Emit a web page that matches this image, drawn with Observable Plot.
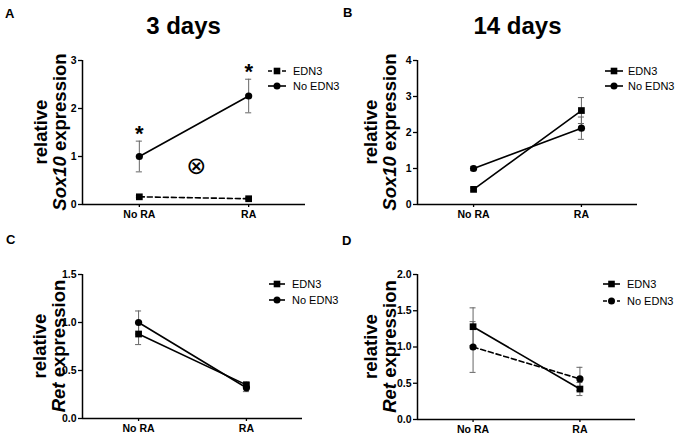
<!DOCTYPE html>
<html>
<head>
<meta charset="utf-8">
<script src="https://cdn.jsdelivr.net/npm/d3@7"></script>
<script src="https://cdn.jsdelivr.net/npm/@observablehq/plot@0.6"></script>
<style>
  html, body { margin: 0; padding: 0; background: white; }
  #root { position: relative; width: 683px; height: 439px; overflow: hidden; background: white; }
  #root > svg { position: absolute; }
</style>
</head>
<body>
<div id="root"></div>
<script>
// ---------- data ----------
const categories = ["No RA", "RA"];
const seriesNames = ["EDN3", "No EDN3"];
const xDomain = [-0.52, 1.52];

// Panel A: 3 days, Sox10
const sox3Edn3 = [0.16, 0.12];
const sox3Edn3Sem = [0.02, 0.02];
const sox3NoEdn3 = [1.0, 2.26];
const sox3NoEdn3Sem = [0.32, 0.35];
const sox3Stars = ["*", "*"];
const sox3Annotation = [{x: 0.52, y: 0.8, label: "⊗"}];

// Panel B: 14 days, Sox10
const sox14Edn3 = [0.42, 2.61];
const sox14Edn3Sem = [0.04, 0.36];
const sox14NoEdn3 = [1.0, 2.12];
const sox14NoEdn3Sem = [0.06, 0.31];

// Panel C: 3 days, Ret
const ret3Edn3 = [0.88, 0.35];
const ret3Edn3Sem = [0.11, 0.03];
const ret3NoEdn3 = [1.0, 0.32];
const ret3NoEdn3Sem = [0.12, 0.04];

// Panel D: 14 days, Ret
const ret14Edn3 = [1.28, 0.42];
const ret14Edn3Sem = [0.26, 0.09];
const ret14NoEdn3 = [1.0, 0.56];
const ret14NoEdn3Sem = [0.35, 0.16];

const ticksSox3 = [0, 1, 2, 3];
const ticksSox14 = [0, 1, 2, 3, 4];
const ticksRet3 = [0, 0.5, 1.0, 1.5];
const ticksRet14 = [0, 0.5, 1.0, 1.5, 2.0];

const titles = ["3 days", "14 days"];
const panelLetters = ["A", "B", "C", "D"];

// ---------- drawing ----------
const FONT = "'Liberation Sans', Arial, Helvetica, sans-serif";
const root = document.getElementById("root");
const ERR = "#666";

function rowsOf(vals, sems, name) {
  return vals.map((v, i) => ({x: i, y: v, e: sems[i], s: name}));
}

function panel(o) {
  const edn3 = rowsOf(o.edn3, o.edn3Sem, seriesNames[0]);
  const none = rowsOf(o.no, o.noSem, seriesNames[1]);
  const all = edn3.concat(none);
  const caps = all.flatMap(d => [d.y - d.e, d.y + d.e].map(v => ({x: d.x, v})));
  const marks = [
    Plot.ruleX(all, {x: "x", y1: d => d.y - d.e, y2: d => d.y + d.e, stroke: ERR, strokeWidth: 1}),
    Plot.ruleY(caps, {y: "v", x1: d => d.x - 0.028, x2: d => d.x + 0.028, stroke: ERR, strokeWidth: 1}),
    Plot.line(edn3, {x: "x", y: "y", stroke: "black", strokeWidth: 1.6, strokeDasharray: o.edn3Dash ? "5,3" : "none"}),
    Plot.line(none, {x: "x", y: "y", stroke: "black", strokeWidth: 1.6, strokeDasharray: o.noDash ? "5,3" : "none"}),
    Plot.dot(edn3, {x: "x", y: "y", symbol: "square", r: 3.8, fill: "black", stroke: null}),
    Plot.dot(none, {x: "x", y: "y", symbol: "circle", r: 3.6, fill: "black", stroke: null}),
    Plot.ruleY([o.yDomain[0]], {stroke: "black", strokeWidth: 1.5}),
    Plot.ruleX([xDomain[0]], {stroke: "black", strokeWidth: 1.5}),
    Plot.axisY({ticks: o.yTicks, tickFormat: o.yFmt, tickSize: 4, tickPadding: 2, strokeWidth: 1.3, label: null, fontWeight: "bold"}),
    Plot.axisX({ticks: [0, 1], tickFormat: i => categories[i], tickSize: 3, tickPadding: 3, strokeWidth: 1.3, label: null, fontWeight: "bold"})
  ];
  if (o.stars) {
    marks.push(Plot.text(none, {x: "x", y: d => d.y + d.e, text: (d, i) => o.stars[i], dy: -7, fontSize: 22, fontWeight: "bold"}));
  }
  if (o.annotation) {
    marks.push(Plot.text(o.annotation, {x: "x", y: "y", text: "label", fontSize: 24, fontFamily: "'DejaVu Sans'"}));
  }
  const svg = Plot.plot({
    width: o.width, height: o.height,
    marginLeft: o.ml, marginRight: o.mr, marginTop: o.mt, marginBottom: o.mb,
    x: {type: "linear", domain: xDomain},
    y: {domain: o.yDomain},
    style: {fontFamily: FONT, fontSize: "10.5px", color: "black", background: "transparent", overflow: "visible"},
    marks
  });
  svg.style.left = o.left + "px";
  svg.style.top = o.top + "px";
  svg.style.maxWidth = "none";
  root.appendChild(svg);

  const s = d3.select(svg);
  // y-axis title (two lines, gene name italic)
  const cy = (o.mt + (o.height - o.mb)) / 2;
  s.append("text").attr("transform", `translate(${o.lab1},${cy}) rotate(-90)`)
    .attr("text-anchor", "middle").attr("font-size", 18.5).attr("font-weight", "bold")
    .attr("font-family", FONT).attr("fill", "black").text("relative");
  const t2 = s.append("text").attr("transform", `translate(${o.lab2},${cy}) rotate(-90)`)
    .attr("text-anchor", "middle").attr("font-size", 18.5).attr("font-weight", "bold")
    .attr("font-family", FONT).attr("fill", "black");
  t2.append("tspan").attr("font-style", "italic").text(o.gene);
  t2.append("tspan").text(" expression");

  // legend
  const lg = s.append("g").attr("font-family", FONT).attr("font-size", 11).attr("text-anchor", "start").attr("font-weight", "normal");
  o.legRows.forEach((ly, i) => {
    const dashed = i === 0 ? o.edn3Dash : o.noDash;
    lg.append("line").attr("x1", o.legX0).attr("x2", o.legX1).attr("y1", ly).attr("y2", ly)
      .attr("stroke", "black").attr("stroke-width", 1.6)
      .attr("stroke-dasharray", dashed ? "4,3" : null);
    const mx = (o.legX0 + o.legX1) / 2;
    if (i === 0) lg.append("rect").attr("x", mx - 3.3).attr("y", ly - 3.3).attr("width", 6.6).attr("height", 6.6).attr("fill", "black");
    else lg.append("circle").attr("cx", mx).attr("cy", ly).attr("r", 3.5).attr("fill", "black");
    lg.append("text").attr("x", o.legText).attr("y", ly).attr("dy", "0.36em").attr("fill", "black").attr("text-anchor", "start").text(seriesNames[i]);
  });
}

const fmtInt = d3.format("d");
const fmt1 = d3.format(".1f");

panel({left: 0, top: 0, width: 340, height: 225, ml: 82, mr: 35, mt: 60, mb: 21,
  yDomain: [0, 3], yTicks: ticksSox3, yFmt: fmtInt,
  edn3: sox3Edn3, edn3Sem: sox3Edn3Sem, no: sox3NoEdn3, noSem: sox3NoEdn3Sem,
  edn3Dash: true, noDash: false, stars: sox3Stars, annotation: sox3Annotation,
  gene: "Sox10", lab1: 47, lab2: 66,
  legRows: [71, 86], legX0: 268, legX1: 286, legText: 293});

panel({left: 340, top: 0, width: 343, height: 225, ml: 77, mr: 46, mt: 60, mb: 21,
  yDomain: [0, 4], yTicks: ticksSox14, yFmt: fmtInt,
  edn3: sox14Edn3, edn3Sem: sox14Edn3Sem, no: sox14NoEdn3, noSem: sox14NoEdn3Sem,
  edn3Dash: false, noDash: false,
  gene: "Sox10", lab1: 37, lab2: 56,
  legRows: [71, 86], legX0: 265, legX1: 283, legText: 288});

panel({left: 0, top: 225, width: 340, height: 214, ml: 82, mr: 38, mt: 49, mb: 21,
  yDomain: [0, 1.5], yTicks: ticksRet3, yFmt: fmt1,
  edn3: ret3Edn3, edn3Sem: ret3Edn3Sem, no: ret3NoEdn3, noSem: ret3NoEdn3Sem,
  edn3Dash: false, noDash: false,
  gene: "Ret", lab1: 46, lab2: 65,
  legRows: [59, 75], legX0: 269, legX1: 285, legText: 292});

panel({left: 340, top: 225, width: 343, height: 214, ml: 77, mr: 48, mt: 49, mb: 20,
  yDomain: [0, 2], yTicks: ticksRet14, yFmt: fmt1,
  edn3: ret14Edn3, edn3Sem: ret14Edn3Sem, no: ret14NoEdn3, noSem: ret14NoEdn3Sem,
  edn3Dash: false, noDash: true,
  gene: "Ret", lab1: 37, lab2: 56,
  legRows: [59, 76], legX0: 263, legX1: 280, legText: 287});

// overlay: titles and panel letters
const ov = d3.select(root).append("svg")
  .attr("width", 683).attr("height", 439)
  .style("left", "0px").style("top", "0px").style("pointer-events", "none")
  .attr("font-family", FONT).attr("font-weight", "bold").attr("fill", "black");
ov.append("text").attr("x", 183.5).attr("y", 34).attr("text-anchor", "middle").attr("font-size", 24).text(titles[0]);
ov.append("text").attr("x", 517.5).attr("y", 34).attr("text-anchor", "middle").attr("font-size", 24).text(titles[1]);
const letterPos = [[5, 18], [343, 17], [6, 244], [342, 245]];
panelLetters.forEach((L, i) => ov.append("text").attr("x", letterPos[i][0]).attr("y", letterPos[i][1]).attr("font-size", 13).text(L));
</script>
</body>
</html>
